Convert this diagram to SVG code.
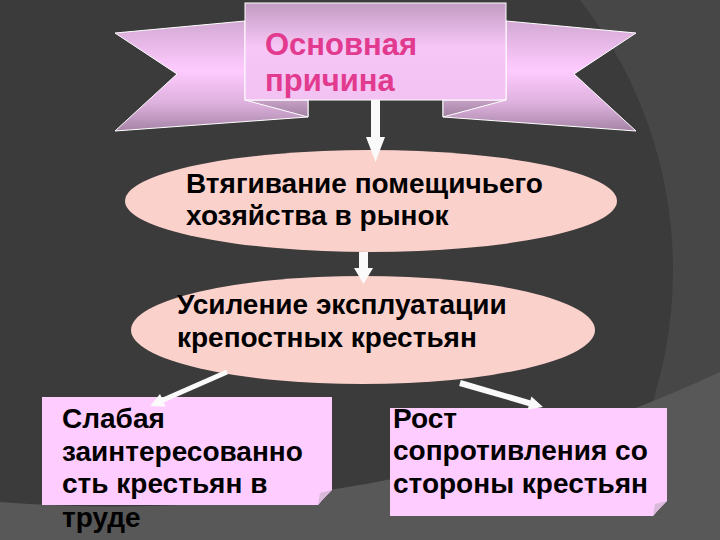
<svg xmlns="http://www.w3.org/2000/svg" width="720" height="540" viewBox="0 0 720 540">
<defs>
<linearGradient id="gWing" gradientUnits="userSpaceOnUse" x1="0" y1="20" x2="0" y2="132">
<stop offset="0" stop-color="#d2a8d2"/>
<stop offset="0.45" stop-color="#ffcbff"/>
<stop offset="0.75" stop-color="#dcb0dc"/>
<stop offset="1" stop-color="#a482a4"/>
</linearGradient>
<linearGradient id="gRect" gradientUnits="userSpaceOnUse" x1="0" y1="3" x2="0" y2="100">
<stop offset="0" stop-color="#c29cc2"/>
<stop offset="0.45" stop-color="#f6c6f6"/>
<stop offset="1" stop-color="#f2c2f2"/>
</linearGradient>
<linearGradient id="gFold" gradientUnits="userSpaceOnUse" x1="0" y1="100" x2="0" y2="118">
<stop offset="0" stop-color="#c6a2c6"/>
<stop offset="1" stop-color="#a07ea0"/>
</linearGradient>
<style>
.ttl{font-family:"Liberation Sans",Arial,sans-serif;font-weight:bold;font-size:31px;fill:#e23a8e}
.lbl{font-family:"Liberation Sans",Arial,sans-serif;font-weight:bold;font-size:28px;fill:#000}
.ell{fill:#fbd1cc}
.box{fill:#ffccff}
.curl{fill:#d9b9d9}
.curlsh{fill:#2e2e2e}
.wing{fill:url(#gWing);stroke:#fff;stroke-width:1}
.fold{fill:url(#gFold);stroke:#fff;stroke-width:1}
.shaft{stroke:#fafafa;fill:none}
.head{fill:#fafafa}
</style>
</defs>
<g id="background">
<rect x="0" y="0" width="720" height="540" fill="#474747"/>
<circle cx="235" cy="270" r="438" fill="#3b3b3b"/>
<path d="M0,502 A1439,1439 0 0 0 720,372 L720,540 L0,540 Z" fill="#585858"/>
</g>
<g id="banner">
<polygon class="wing" points="115,33 245,21 245,100 308,100 308,117 115,131 177,74"/>
<polygon class="wing" points="636,33 506,21 506,100 443,100 443,117 636,131 574,74"/>
<polygon class="fold" points="245,100 308,100 308,117"/>
<polygon class="fold" points="506,100 443,100 443,117"/>
<rect x="245" y="3" width="261" height="97" fill="url(#gRect)" stroke="#fff" stroke-width="1"/>
<text class="ttl" x="265" y="55">Основная</text>
<text class="ttl" x="265" y="91">причина</text>
</g>
<g id="node-market">
<ellipse class="ell" cx="371" cy="201" rx="246" ry="51"/>
<text class="lbl" x="186" y="193">Втягивание помещичьего</text>
<text class="lbl" x="186" y="225">хозяйства в рынок</text>
</g>
<g id="node-exploitation">
<ellipse class="ell" cx="363" cy="330" rx="232" ry="54"/>
<text class="lbl" x="177" y="314">Усиление эксплуатации</text>
<text class="lbl" x="177" y="347">крепостных крестьян</text>
</g>
<g id="node-weak">
<path class="box" d="M42,397 H332 V490 L318,505 H42 Z"/>
<polygon class="curlsh" points="332,490 319,505 323,499"/>
<polygon class="curl" points="332,490 318,505 320,493"/>
<text class="lbl" x="62" y="428">Слабая</text>
<text class="lbl" x="62" y="461">заинтересованно</text>
<text class="lbl" x="62" y="493">сть крестьян в</text>
<text class="lbl" x="62" y="527">труде</text>
</g>
<g id="node-resistance">
<path class="box" d="M390,408 H667 V501 L653,516 H390 Z"/>
<polygon class="curlsh" points="667,501 654,516 658,510"/>
<polygon class="curl" points="667,501 653,516 655,504"/>
<text class="lbl" x="393" y="428">Рост</text>
<text class="lbl" x="393" y="460">сопротивления со</text>
<text class="lbl" x="393" y="493">стороны крестьян</text>
</g>
<g id="connectors">
<line class="shaft" x1="375.5" y1="100" x2="375.5" y2="138" stroke-width="9"/>
<polygon class="head" points="366,137 385,137 375.5,162"/>
<line class="shaft" x1="363.5" y1="252" x2="363.5" y2="269" stroke-width="9"/>
<polygon class="head" points="354,268 373,268 363.5,284"/>
<line class="shaft" x1="227" y1="372" x2="162" y2="400.5" stroke-width="5"/>
<polygon class="head" points="150,406 165.6,406.7 160,393.9"/>
<line class="shaft" x1="460" y1="383" x2="530" y2="403.3" stroke-width="6"/>
<polygon class="head" points="543,407 527.6,409.8 531.4,396.4"/>
</g>
</svg>
